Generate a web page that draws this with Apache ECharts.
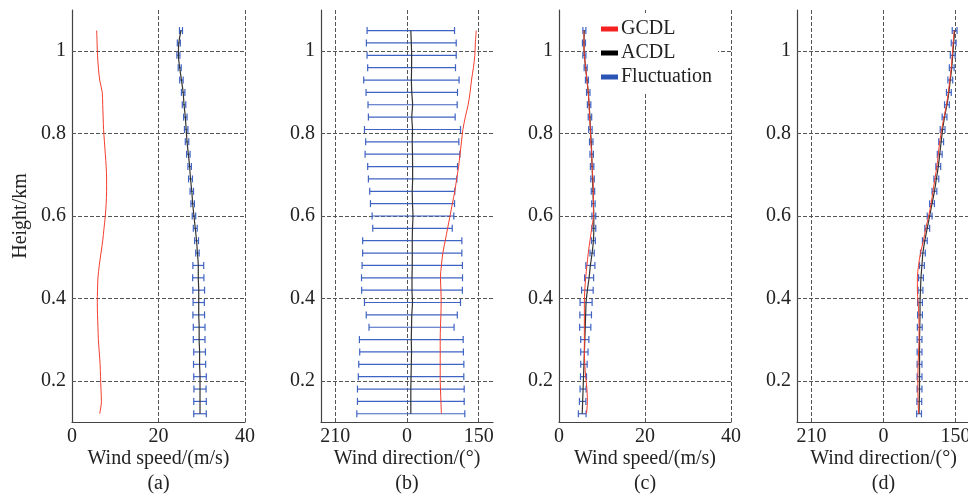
<!DOCTYPE html>
<html>
<head>
<meta charset="utf-8">
<script src="https://cdn.jsdelivr.net/npm/echarts@6/dist/echarts.min.js"></script>
<style>
html,body{margin:0;padding:0;background:#fff;}
#chart{width:968px;height:496px;}
</style>
</head>
<body>
<div id="chart"></div>
<script>
// Heights (km), bottom to top
const heights = [0.12,0.15,0.18,0.21,0.24,0.27,0.30,0.33,0.36,0.39,0.42,0.45,0.48,0.51,0.54,0.57,0.60,0.63,0.66,0.69,0.72,0.75,0.78,0.81,0.84,0.87,0.90,0.93,0.96,0.99,1.02,1.05];

// (a) wind speed, m/s
const aGCDL = [6.4,6.8,6.7,6.6,6.5,6.3,6.1,6.0,5.9,5.85,5.9,6.0,6.3,6.7,7.1,7.4,7.7,7.9,8.0,8.0,7.9,7.7,7.5,7.3,7.2,7.1,7.0,6.4,6.1,5.9,5.8,5.7];
const aACDL = [29.6,29.6,29.6,29.6,29.5,29.5,29.4,29.4,29.3,29.3,29.3,29.2,29.2,29.0,28.8,28.5,28.2,27.9,27.7,27.4,27.2,26.9,26.6,26.4,26.2,25.9,25.7,25.3,24.9,24.6,24.7,25.2];
const aFluct = [1.45,1.45,1.4,1.45,1.4,1.35,1.35,1.35,1.35,1.3,1.35,1.3,1.25,0.4,0.45,0.45,0.4,0.4,0.4,0.45,0.4,0.4,0.4,0.4,0.4,0.4,0.4,0.4,0.35,0.35,0.35,0.35];

// (b) wind direction, degrees (negative = 360 - value)
const bGCDL = [72,71,70,69.5,69.5,69.5,69.5,70,71,71.5,71,70,72,75,80,85,90,95,100,104,108,111,114,117,122,128,132,135,139,142,143,145];
const bACDL = [8,8,8,8.5,9,9.5,9,9.5,10,11.5,10.5,10.5,11,11,11,11.5,12.5,11.5,11,11.8,11.7,11.5,11,11.5,10,11.7,10,9.2,9.6,9.7,9,8];
const bFluct = [113,111.7,111.7,110.4,110,108.5,108.6,89,95.3,100.5,105.4,105.7,105,103.8,103.8,83.2,85.5,88,89,92.6,94,99.2,97.5,100.5,90.8,93.3,95.7,99.8,91.9,93.3,94,91.5];

// (c) wind speed, m/s
const cGCDL = [6.4,6.6,6.5,6.2,6.0,5.9,5.9,5.9,5.9,5.9,6.0,6.2,6.5,6.8,7.2,7.6,8.0,8.0,8.0,7.9,7.7,7.6,7.4,7.3,7.1,7.0,6.8,6.5,6.2,5.9,5.8,5.8];
const cACDL = [5.4,5.5,5.6,5.7,5.8,5.9,6.0,6.1,6.2,6.3,6.6,7.0,7.3,7.7,8.0,8.1,8.1,8.0,7.9,7.8,7.7,7.6,7.5,7.3,7.2,7.0,6.8,6.5,6.2,5.9,5.8,5.9];
const cFluct = [0.9,0.75,0.7,0.7,0.75,0.85,0.95,1.3,1.35,1.4,1.35,1.05,1.05,0.5,0.45,0.45,0.45,0.4,0.4,0.4,0.4,0.4,0.4,0.4,0.4,0.4,0.4,0.35,0.35,0.35,0.35,0.35];

// (d) wind direction, degrees
const dGCDL = [73,72,71.5,71.5,72,73,74,74,73.5,72,70.5,70.5,73,77,83,88,94,99,103,107,111,114,117,121,126,131,135,138,141,143,145,147];
const dACDL = [74,74.5,75,75,75,75,75,75.5,76,76,77,78,80,82,86,91,96,101,106,110,114,117,120,123,127,132,136,139,142,144,146,148];
const dFluct = [5,5,5,5,5,5,5,5,5,5,5,5,5,5,5,5,5,5,5,5,5,5,5,5,5,5,5,5,5,5,5,5];

// ticks
const heightTicks = [0.2,0.4,0.6,0.8,1.0];
const speedTicks = [0,20,40];
const speedGrid = [20,40];
const dirTicks = [-150,0,150];
const dirGrid = [-150,0,150];

const panelNames = ['(a)','(b)','(c)','(d)'];
const axisTitles = ['Wind speed/(m/s)','Wind direction/(°)','Wind speed/(m/s)','Wind direction/(°)'];

const FONT = '"Liberation Serif", "Times New Roman", serif';
const TXT = '#222';
const RED = '#f53d2d';
const BLACK = '#333';
const BLUE = '#3f63c2';

const grids = [
  {left:72, top:10, width:173, height:412, outerBoundsMode:'none', containLabel:false},
  {left:321, top:10, width:172, height:412, outerBoundsMode:'none', containLabel:false},
  {left:559, top:10, width:172, height:412, outerBoundsMode:'none', containLabel:false},
  {left:797, top:10, width:173, height:412, outerBoundsMode:'none', containLabel:false}
];

const isDir = [false,true,false,true];
const gcdl = [aGCDL,bGCDL,cGCDL,dGCDL];
const acdl = [aACDL,bACDL,cACDL,dACDL];
const fluct = [aFluct,bFluct,cFluct,dFluct];

const xAxes = [], yAxes = [], series = [];
for (let i = 0; i < 4; i++) {
  const dir = isDir[i];
  xAxes.push({
    type:'value', gridIndex:i,
    min: dir ? -180 : 0, max: dir ? 180 : 40,
    interval: dir ? undefined : 20,
    axisLine:{show:true, onZero:false, lineStyle:{color:'#444', width:1.2}},
    axisTick:{show:false},
    splitLine:{show:false},
    axisLabel:{
      customValues: dir ? dirTicks : speedTicks,
      fontFamily:FONT, fontSize:20, color:TXT, margin:5,
      formatter: v => (v < 0 ? v + 360 : v) + ''
    },
    name: axisTitles[i] + '\n' + panelNames[i],
    nameLocation:'middle', nameGap:24, nameMoveOverlap:false,
    nameTextStyle:{fontFamily:FONT, fontSize:20, color:TXT, lineHeight:25}
  });
  yAxes.push({
    type:'value', gridIndex:i, min:0.1, max:1.1,
    axisLine:{show:true, onZero:false, lineStyle:{color:'#444', width:1.2}},
    axisTick:{show:false},
    splitLine:{show:false},
    axisLabel:{customValues: heightTicks, fontFamily:FONT, fontSize:20, color:TXT, margin:6},
    name: i === 0 ? 'Height/km' : '',
    nameLocation:'middle', nameGap:41, nameMoveOverlap:false,
    nameTextStyle:{fontFamily:FONT, fontSize:20, color:TXT}
  });

  const gridLines = [];
  (dir ? dirGrid : speedGrid).forEach(v => gridLines.push({xAxis:v}));
  heightTicks.forEach(v => gridLines.push({yAxis:v}));

  const barData = heights.map((h, k) => [acdl[i][k] - fluct[i][k], acdl[i][k] + fluct[i][k], h]);

  series.push({
    name:'Fluctuation', type:'custom', xAxisIndex:i, yAxisIndex:i,
    itemStyle:{color:BLUE},
    encode:{x:[0,1], y:2},
    data: barData,
    renderItem: function (params, api) {
      const lo = api.coord([api.value(0), api.value(2)]);
      const hi = api.coord([api.value(1), api.value(2)]);
      const c = 3.5;
      const st = {stroke:BLUE, lineWidth:1.2, fill:null};
      return {type:'group', children:[
        {type:'line', shape:{x1:lo[0], y1:lo[1], x2:hi[0], y2:hi[1]}, style:st},
        {type:'line', shape:{x1:lo[0], y1:lo[1]-c, x2:lo[0], y2:lo[1]+c}, style:st},
        {type:'line', shape:{x1:hi[0], y1:hi[1]-c, x2:hi[0], y2:hi[1]+c}, style:st}
      ]};
    },
    markLine:{
      silent:true, symbol:'none', label:{show:false},
      lineStyle:{color:'#555', type:[4,2], width:1},
      emphasis:{disabled:true},
      data: gridLines, z:1
    },
    z:3
  });
  series.push({
    name:'ACDL', type:'line', xAxisIndex:i, yAxisIndex:i,
    data: heights.map((h, k) => [acdl[i][k], h]),
    showSymbol:false, smooth:0.3,
    lineStyle:{color:BLACK, width:1.2},
    itemStyle:{color:'#000'},
    z:4
  });
  series.push({
    name:'GCDL', type:'line', xAxisIndex:i, yAxisIndex:i,
    data: heights.map((h, k) => [gcdl[i][k], h]),
    showSymbol:false, smooth:0.3,
    lineStyle:{color:RED, width:1},
    itemStyle:{color:RED},
    z:5
  });
}

const chart = echarts.init(document.getElementById('chart'));
chart.setOption({
  animation:false,
  backgroundColor:'#fff',
  grid: grids,
  xAxis: xAxes,
  yAxis: yAxes,
  legend:{
    orient:'vertical', left:597, top:13,
    backgroundColor:'#fff',
    padding:[6,6,6,4],
    itemWidth:17, itemHeight:5, itemGap:4,
    icon:'rect',
    textStyle:{fontFamily:FONT, fontSize:20, color:TXT, padding:[0,0,0,-2]},
    data:[
      {name:'GCDL', itemStyle:{color:'#f52020'}},
      {name:'ACDL', itemStyle:{color:'#000'}},
      {name:'Fluctuation', itemStyle:{color:'#2a55b5'}}
    ],
    z:10
  },
  series: series
});
</script>
</body>
</html>
